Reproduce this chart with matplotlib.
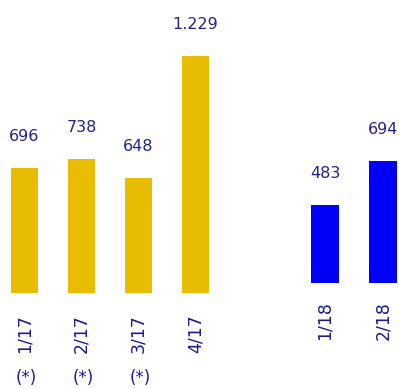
import matplotlib
matplotlib.use("Agg")
import matplotlib.pyplot as plt
from matplotlib.transforms import blended_transform_factory

# Data
cats_2017 = ["1/17", "2/17", "3/17", "4/17"]
vals_2017 = [696, 738, 648, 1229]
notes_2017 = ["(*)", "(*)", "(*)", ""]
cats_2018 = ["1/18", "2/18"]
vals_2018 = [483, 694]
labels_2017 = ["696", "738", "648", "1.229"]
labels_2018 = ["483", "694"]

YELLOW = "#E8BC00"
BLUE = "#0000F8"
TXT = "#22228A"
TICK = "#1A1A8C"

W, H = 399, 389
fig = plt.figure(figsize=(W / 100, H / 100), dpi=100)
fig.patch.set_facecolor("white")

scale = 0.21  # px per unit

def make_ax(left_px, right_px, base_px, ybase):
    ax = fig.add_axes([left_px / W, (H - base_px) / H, (right_px - left_px) / W, base_px / H])
    ax.set_ylim(ybase, ybase + base_px / scale)
    for s in ax.spines.values():
        s.set_visible(False)
    ax.set_yticks([])
    ax.patch.set_alpha(0)
    return ax

# 2017 axes
ax1 = make_ax(0, 235, 293.3, 100)
c0, sp = 24.5, 57.0
ax1.set_xlim((0 - c0) / sp, (235 - c0) / sp)
x1 = list(range(len(cats_2017)))
ax1.bar(x1, vals_2017, width=27 / sp, color=YELLOW)
for xi, v, lab in zip(x1, vals_2017, labels_2017):
    ax1.annotate(lab, (xi, v), xytext=(0, 32), textcoords="offset pixels",
                 ha="center", va="center", fontsize=11.5, color=TXT)
ax1.set_xticks(x1)
ax1.set_xticklabels(cats_2017, rotation=90, fontsize=12.5, color=TICK, va="top")
ax1.tick_params(axis="x", length=0, pad=15)
tr = blended_transform_factory(ax1.transData, fig.transFigure)
for xi, n in zip(x1, notes_2017):
    if n:
        ax1.text(xi + 0.03, (H - 378) / H, n, transform=tr, ha="center", va="center",
                 fontsize=12, color=TICK)

# 2018 axes
ax2 = make_ax(240, 399, 282.7, 115)
c1, sp2 = 325.0, 58.0
ax2.set_xlim((240 - c1) / sp2, (399 - c1) / sp2)
x2 = list(range(len(cats_2018)))
ax2.bar(x2, vals_2018, width=28 / sp2, color=BLUE)
for xi, v, lab in zip(x2, vals_2018, labels_2018):
    ax2.annotate(lab, (xi, v), xytext=(0, 32), textcoords="offset pixels",
                 ha="center", va="center", fontsize=11.5, color=TXT)
ax2.set_xticks(x2)
ax2.set_xticklabels(cats_2018, rotation=90, fontsize=12.5, color=TICK, va="top")
ax2.tick_params(axis="x", length=0, pad=13)

fig.savefig("out.png", dpi=100, facecolor="white")
